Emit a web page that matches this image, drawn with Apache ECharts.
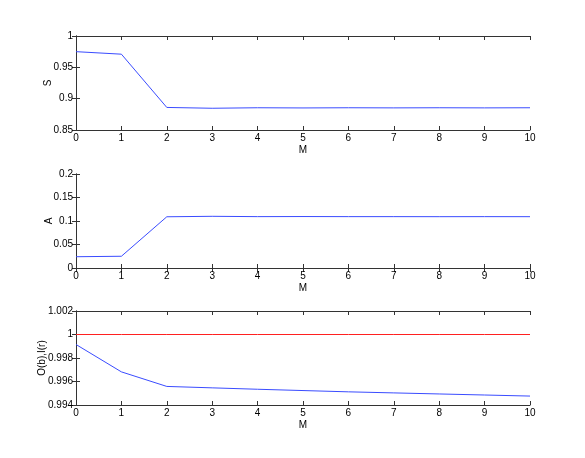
<!DOCTYPE html>
<html>
<head>
<meta charset="utf-8">
<script src="https://cdn.jsdelivr.net/npm/echarts@6/dist/echarts.min.js"></script>
<style>
  html, body { margin: 0; padding: 0; background: #fff; }
  #chart { width: 585px; height: 458px; }
</style>
</head>
<body>
<div id="chart"></div>
<script>
// M values on the x axis
const mValues = [0, 1, 2, 3, 4, 5, 6, 7, 8, 9, 10];

// top panel: S
const sValues = [0.975, 0.971, 0.886, 0.8847, 0.8855, 0.8852, 0.8855, 0.8853, 0.8855, 0.8853, 0.8855];
// middle panel: A
const aValues = [0.024, 0.025, 0.109, 0.110, 0.1093, 0.1095, 0.1093, 0.1093, 0.1092, 0.1093, 0.1092];
// bottom panel: O(b) (blue) and I(r) (red)
const oValues = [0.99915, 0.99682, 0.99558, 0.99546, 0.99534, 0.99523, 0.99512, 0.99503, 0.99494, 0.99485, 0.99476];
const iValues = [1, 1, 1, 1, 1, 1, 1, 1, 1, 1, 1];

const font = 'Liberation Sans, Arial, sans-serif';
const axisColor = '#333';

// panel layout: grid tops and y axis settings
const panels = [
  { top: 36, name: 'S', gap: 23, min: 0.85, max: 1, interval: 0.05 },
  { top: 174, name: 'A', gap: 22, min: 0, max: 0.2, interval: 0.05 },
  { top: 311, name: 'O(b),I(r)', gap: 29, min: 0.994, max: 1.002, interval: 0.002 }
];

function fmt(v) {
  return String(parseFloat(v.toFixed(4)));
}

const grids = [];
const xAxes = [];
const yAxes = [];
panels.forEach((p, i) => {
  grids.push({ left: 76, right: 55, top: p.top, height: 94 });
  // bottom x axis with labels
  xAxes.push({
    type: 'value', gridIndex: i, min: 0, max: 10, interval: 1,
    name: 'M', nameLocation: 'middle', nameGap: 15, nameMoveOverlap: false,
    nameTextStyle: { fontFamily: font, fontSize: 10, color: '#000' },
    axisLine: { show: true, lineStyle: { color: axisColor, width: 1 } },
    axisTick: { show: true, inside: true, length: 4, lineStyle: { color: axisColor } },
    axisLabel: { fontFamily: font, fontSize: 10, color: '#000', margin: 3 },
    splitLine: { show: false }
  });
  // top mirror axis
  xAxes.push({
    type: 'value', gridIndex: i, position: 'top', min: 0, max: 10, interval: 1,
    axisLine: { show: true, lineStyle: { color: axisColor, width: 1 } },
    axisTick: { show: true, inside: true, length: 4, lineStyle: { color: axisColor } },
    axisLabel: { show: false },
    splitLine: { show: false }
  });
  yAxes.push({
    type: 'value', gridIndex: i, min: p.min, max: p.max, interval: p.interval,
    name: p.name, nameLocation: 'middle', nameGap: p.gap, nameMoveOverlap: false,
    nameTextStyle: { fontFamily: font, fontSize: 10, color: '#000' },
    axisLine: { show: true, lineStyle: { color: axisColor, width: 1 } },
    axisTick: { show: true, inside: true, length: 4, lineStyle: { color: axisColor } },
    axisLabel: { fontFamily: font, fontSize: 10, color: '#000', margin: 3, formatter: fmt },
    splitLine: { show: false }
  });
  // right mirror axis
  yAxes.push({
    type: 'value', gridIndex: i, position: 'right', min: p.min, max: p.max, interval: p.interval,
    axisLine: { show: true, lineStyle: { color: axisColor, width: 1 } },
    axisTick: { show: true, inside: true, length: 4, lineStyle: { color: axisColor } },
    axisLabel: { show: false },
    splitLine: { show: false }
  });
});

function pairs(ys) {
  return mValues.map((m, k) => [m, ys[k]]);
}

function lineSeries(idx, ys, color) {
  return {
    type: 'line', xAxisIndex: idx * 2, yAxisIndex: idx * 2,
    data: pairs(ys), showSymbol: false, symbol: 'none',
    lineStyle: { color: color, width: 1 }, silent: true, animation: false
  };
}

const chart = echarts.init(document.getElementById('chart'));
chart.setOption({
  backgroundColor: '#fff',
  animation: false,
  grid: grids,
  xAxis: xAxes,
  yAxis: yAxes,
  series: [
    lineSeries(0, sValues, '#3a4cff'),
    lineSeries(1, aValues, '#3a4cff'),
    lineSeries(2, iValues, '#ff2020'),
    lineSeries(2, oValues, '#3a4cff')
  ]
});
</script>
</body>
</html>
